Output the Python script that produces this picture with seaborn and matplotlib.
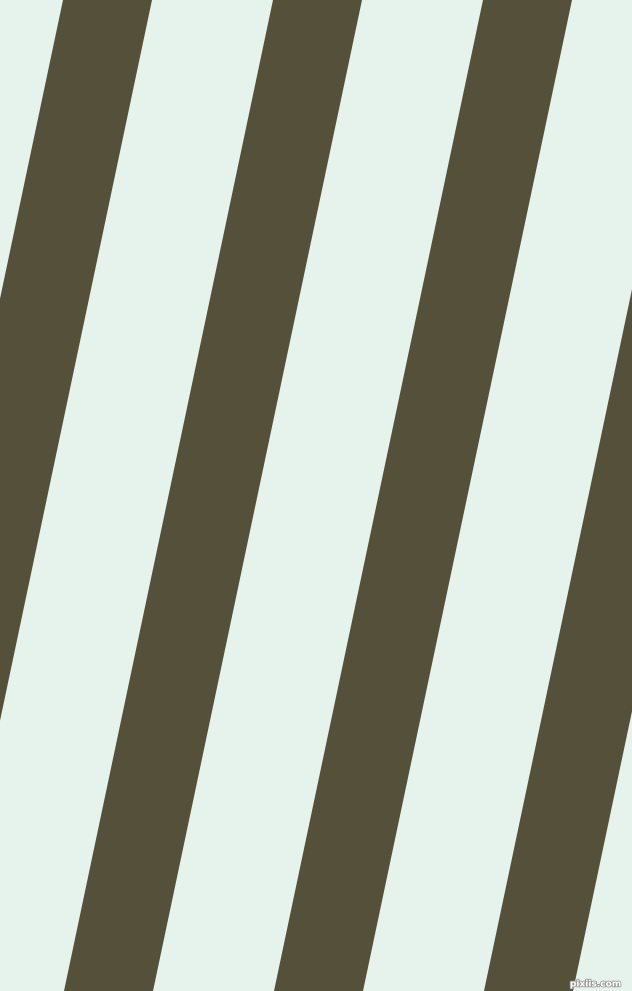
import numpy as np
import matplotlib
matplotlib.use("Agg")
import matplotlib.pyplot as plt
import matplotlib.patheffects as pe
import seaborn as sns

# stripe geometry (pixels)
stripe_left_top = [-147, 63, 273, 483, 693]
stripe_width = 89
drift = 209  # how far each stripe moves left from top to bottom
height = 991
width = 632

dark_color = "#55503a"
light_color = "#e6f2ec"

sns.set_theme(style="white")

fig = plt.figure(figsize=(6.32, 9.91), dpi=100)
ax = fig.add_axes([0, 0, 1, 1])
ax.set_facecolor(light_color)

y = np.array([0, height])
for x0 in stripe_left_top:
    left = x0 - drift * y / height
    ax.fill_betweenx(y, left, left + stripe_width, color=dark_color, linewidth=0)

ax.set_xlim(0, width)
ax.set_ylim(height, 0)
ax.axis("off")

ax.text(621, 984, "pixiis.com", fontsize=6.5, color="white", ha="right", va="center",
        fontweight="bold",
        path_effects=[pe.withStroke(linewidth=1.2, foreground="#9a9a9a")])

fig.savefig("out.png", dpi=100, facecolor=light_color)
